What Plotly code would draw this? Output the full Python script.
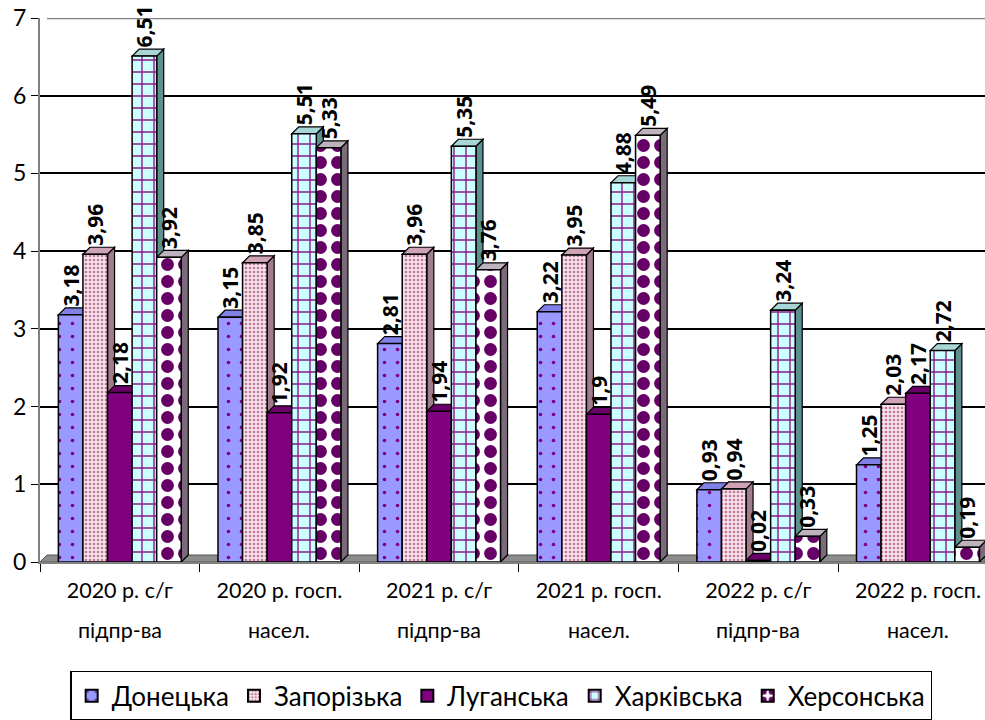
import plotly.graph_objects as go

cat_line1 = ["2020 р. с/г", "2020 р. госп.", "2021 р. с/г", "2021 р. госп.", "2022 р. с/г", "2022 р. госп."]
cat_line2 = ["підпр-ва", "насел.", "підпр-ва", "насел.", "підпр-ва", "насел."]
series_names = ["Донецька", "Запорізька", "Луганська", "Харківська", "Херсонська"]
donetska = [3.18, 3.15, 2.81, 3.22, 0.93, 1.25]
zaporizka = [3.96, 3.85, 3.96, 3.95, 0.94, 2.03]
luhanska = [2.18, 1.92, 1.94, 1.9, 0.02, 2.17]
kharkivska = [6.51, 5.51, 5.35, 4.88, 3.24, 2.72]
khersonska = [3.92, 5.33, 3.76, 5.49, 0.33, 0.19]
y_ticks = [0, 1, 2, 3, 4, 5, 6, 7]

categories = [a + " " + b for a, b in zip(cat_line1, cat_line2)]
series_values = [donetska, zaporizka, luhanska, kharkivska, khersonska]
styles = [
    dict(color="#9999FF", pattern=dict(shape=".", fgcolor="#800080", bgcolor="#9999FF", size=13,
                                       solidity=0.06, fgopacity=1),
         side="#6B6BC0", top="#8080E6"),
    dict(color="#FFFFFF", pattern=dict(shape=".", fgcolor="#C07898", bgcolor="#F6E2EA", size=4,
                                       solidity=0.35, fgopacity=1),
         side="#A07C8C", top="#CFA3B6"),
    dict(color="#800080", pattern=dict(shape=""), side="#500050", top="#6A006A"),
    dict(color="#CCFFFF", pattern=dict(shape="+", fgcolor="#8A1A8A", bgcolor="#CCFFFF", size=12,
                                       solidity=0.22, fgopacity=1),
         side="#5F8F8F", top="#A6D6D6"),
    dict(color="#FFFFFF", pattern=dict(shape=".", fgcolor="#660066", bgcolor="#FFFFFF", size=17,
                                       solidity=0.45, fgopacity=1),
         side="#7A6A7A", top="#BDB2BD"),
]

FONT = "Lato, 'Open Sans', sans-serif"
LABEL_FONT = "'Open Sans', 'Noto Sans', sans-serif"
BARGAP = 0.23
X_END = 5.42
DEPTH_X = 0.044   # 3D depth in category units
DEPTH_Y = 0.09    # 3D depth in value units


def fmt(v):
    s = ("%.2f" % v).rstrip("0").rstrip(".")
    return "\u00a0<b>" + s.replace(".", ",") + "</b>"


fig = go.Figure()
for name, vals, st in zip(series_names, series_values, styles):
    fig.add_trace(go.Bar(
        name=name, x=categories, y=vals,
        text=[fmt(v) for v in vals],
        textposition="outside", textangle=-90,
        outsidetextfont=dict(family=LABEL_FONT, size=21, color="black", weight="bold"),
        cliponaxis=False,
        marker=dict(color=st["color"], pattern=st["pattern"], line=dict(color="black", width=1.5)),
    ))

# 3D side and top faces, computed from the data, drawn below the bars
nser = len(series_values)
bw = (1 - BARGAP) / nser
shapes = []
# floor
shapes.append(dict(type="path", xref="x", yref="y", layer="between",
                   path=f"M {-0.5},0 L {-0.5 + DEPTH_X},{DEPTH_Y} L {X_END},{DEPTH_Y} L {X_END},0 Z",
                   fillcolor="#8C8C8C", line=dict(color="#555555", width=1)))
for k, (vals, st) in enumerate(zip(series_values, styles)):
    for i, v in enumerate(vals):
        left = i - (1 - BARGAP) / 2 + k * bw
        right = left + bw
        side = (f"M {right},0 L {right + DEPTH_X},{DEPTH_Y} L {right + DEPTH_X},{v + DEPTH_Y} "
                f"L {right},{v} Z")
        top = (f"M {left},{v} L {left + DEPTH_X},{v + DEPTH_Y} L {right + DEPTH_X},{v + DEPTH_Y} "
               f"L {right},{v} Z")
        shapes.append(dict(type="path", xref="x", yref="y", layer="between", path=side,
                           fillcolor=st["side"], line=dict(color="black", width=1.2)))
        shapes.append(dict(type="path", xref="x", yref="y", layer="between", path=top,
                           fillcolor=st["top"], line=dict(color="black", width=1.2)))
# grey top border of the back wall
shapes.append(dict(type="line", xref="x", yref="y", x0=-0.5 + DEPTH_X, x1=X_END, y0=7, y1=7,
                   layer="between", line=dict(color="#808080", width=2.5)))

annotations = [dict(x=c, y=0, xref="x", yref="paper", text=t, showarrow=False,
                    yanchor="middle", yshift=-68, font=dict(size=21.5))
               for c, t in zip(categories, cat_line2)]

fig.update_layout(
    width=985, height=720,
    paper_bgcolor="white", plot_bgcolor="white",
    barmode="group", bargap=BARGAP, bargroupgap=0,
    margin=dict(l=40, r=0, t=18, b=158, autoexpand=False),
    font=dict(family=FONT, size=21.5, color="black"),
    showlegend=True,
    legend=dict(orientation="h", x=0.488, xanchor="center", y=-0.2, yanchor="top",
                bordercolor="black", borderwidth=1.5, font=dict(size=26),
                itemsizing="constant", traceorder="normal"),
    uniformtext=dict(mode="show", minsize=21),
    shapes=shapes,
    annotations=annotations,
)
fig.update_xaxes(
    range=[-0.5, X_END], tickson="boundaries", ticks="outside", ticklen=8, tickcolor="black",
    tickvals=categories, ticktext=cat_line1, ticklabelstandoff=8,
    showline=True, linecolor="#808080", linewidth=2, showgrid=False,
    tickfont=dict(size=21.5), automargin=False,
)
fig.update_yaxes(
    range=[0, 7], tickvals=y_ticks, ticks="outside", ticklen=7, tickcolor="black",
    showline=True, linecolor="#808080", linewidth=2, gridcolor="black", gridwidth=1.5,
    tickfont=dict(size=23), zeroline=False, automargin=False, ticklabeloverflow="allow",
)
fig.write_html("out.html", config={"displayModeBar": False},
               post_script="document.body.style.margin='0px';")
